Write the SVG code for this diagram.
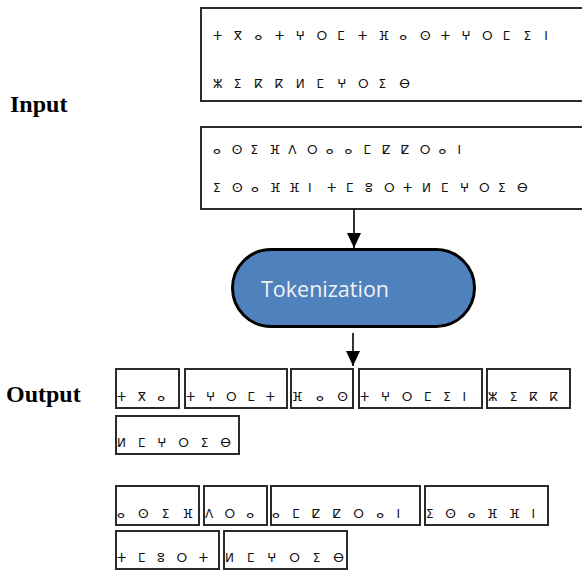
<svg xmlns="http://www.w3.org/2000/svg" width="582" height="571" viewBox="0 0 582 571">
<defs>
<marker id="ah" markerWidth="15" markerHeight="14" refX="15" refY="7" orient="auto" markerUnits="userSpaceOnUse" viewBox="0 0 15 14">
<path d="M0,0 L15,7 L0,14 Z" fill="#000"/>
</marker>
</defs>
<style>
.box{fill:#fff;stroke:#2a2a2a;stroke-width:2}
.tf{font-family:"DejaVu Sans",sans-serif;font-size:12px;fill:#111}
.lbl{font-family:"Liberation Serif","Times New Roman",serif;font-weight:bold;font-size:24px;fill:#000}
.conn{stroke:#000;stroke-width:1.6;fill:none}
</style>
<rect width="582" height="571" fill="#fff"/>

<g id="label-input"><text class="lbl" x="10" y="112">Input</text></g>
<g id="label-output"><text class="lbl" x="6" y="402">Output</text></g>

<g id="input-1">
<rect class="box" x="201" y="8" width="390" height="93"/>
<text class="tf" x="213 233.7 254.4 275.1 275.1 295.8 316.5 337.2 357.9 378.6 378.6 399.3 420 440.7 440.7 461.4 482.1 502.8 523.5 544.2" y="40">ⵜⴳⴰ ⵜⵖⵔⵎⵜ ⴼⴰⵙ ⵜⵖⵔⵎⵉⵏ</text>
<text class="tf" x="213 233.7 254.4 275.1 295.8 295.8 316.5 337.2 357.9 378.6 399.3" y="88">ⵣⵉⴽⴽ ⵍⵎⵖⵔⵉⴱ</text>
</g>

<g id="input-2">
<rect class="box" x="201" y="127" width="390" height="82"/>
<text class="tf" x="213 231.8 250.6 269.4 288.2 288.2 307 325.8 344.6 344.6 363.4 382.2 401 419.8 438.6 457.4" y="154">ⴰⵙⵉⴼ ⴷⵔⴰ ⴰⵎⵇⵇⵔⴰⵏ</text>
<text class="tf" x="213 232 251 270 289 308 327 327 346 365 384 403 422 422 441 460 479 498 517" y="192">ⵉⵙⴰⴼⴼⵏ ⵜⵎⵓⵔⵜ ⵍⵎⵖⵔⵉⴱ</text>
</g>

<g id="tokenization">
<rect x="232.5" y="249.5" width="242" height="77" rx="38.5" ry="38.5" fill="#4F81BD" stroke="#000" stroke-width="3"/>
<text x="261" y="297" font-family="'Open Sans','Noto Sans',sans-serif" font-size="21" fill="#F2F2F2" textLength="128" lengthAdjust="spacingAndGlyphs">Tokenization</text>
</g>

<g id="connectors">
<line class="conn" x1="354" y1="209" x2="354" y2="248" marker-end="url(#ah)"/>
<line class="conn" x1="353" y1="333" x2="353" y2="366" marker-end="url(#ah)"/>
</g>

<g id="tok-1"><rect class="box" x="116" y="369" width="63" height="39"/><text class="tf" x="117" y="401" textLength="48" lengthAdjust="spacing">ⵜⴳⴰ</text></g>
<g id="tok-2"><rect class="box" x="185" y="369" width="102" height="39"/><text class="tf" x="186" y="401" textLength="89" lengthAdjust="spacing">ⵜⵖⵔⵎⵜ</text></g>
<g id="tok-3"><rect class="box" x="291" y="369" width="62" height="39"/><text class="tf" x="292" y="401" textLength="56" lengthAdjust="spacing">ⴼⴰⵙ</text></g>
<g id="tok-4"><rect class="box" x="359" y="369" width="123" height="39"/><text class="tf" x="360" y="401" textLength="106" lengthAdjust="spacing">ⵜⵖⵔⵎⵉⵏ</text></g>
<g id="tok-5"><rect class="box" x="487" y="369" width="83" height="39"/><text class="tf" x="488" y="401" textLength="70" lengthAdjust="spacing">ⵣⵉⴽⴽ</text></g>
<g id="tok-6"><rect class="box" x="116" y="416" width="123" height="38"/><text class="tf" x="117" y="447" textLength="114" lengthAdjust="spacing">ⵍⵎⵖⵔⵉⴱ</text></g>

<g id="tok-7"><rect class="box" x="116" y="486" width="83" height="39"/><text class="tf" x="117" y="518" textLength="76" lengthAdjust="spacing">ⴰⵙⵉⴼ</text></g>
<g id="tok-8"><rect class="box" x="204" y="486" width="63" height="39"/><text class="tf" x="205" y="518" textLength="49" lengthAdjust="spacing">ⴷⵔⴰ</text></g>
<g id="tok-9"><rect class="box" x="271" y="486" width="149" height="39"/><text class="tf" x="272" y="518" textLength="128" lengthAdjust="spacing">ⴰⵎⵇⵇⵔⴰⵏ</text></g>
<g id="tok-10"><rect class="box" x="425" y="486" width="123" height="39"/><text class="tf" x="426" y="518" textLength="109" lengthAdjust="spacing">ⵉⵙⴰⴼⴼⵏ</text></g>
<g id="tok-11"><rect class="box" x="116" y="531" width="103" height="38"/><text class="tf" x="117" y="562" textLength="91" lengthAdjust="spacing">ⵜⵎⵓⵔⵜ</text></g>
<g id="tok-12"><rect class="box" x="224" y="531" width="123" height="38"/><text class="tf" x="225" y="562" textLength="119" lengthAdjust="spacing">ⵍⵎⵖⵔⵉⴱ</text></g>
</svg>
